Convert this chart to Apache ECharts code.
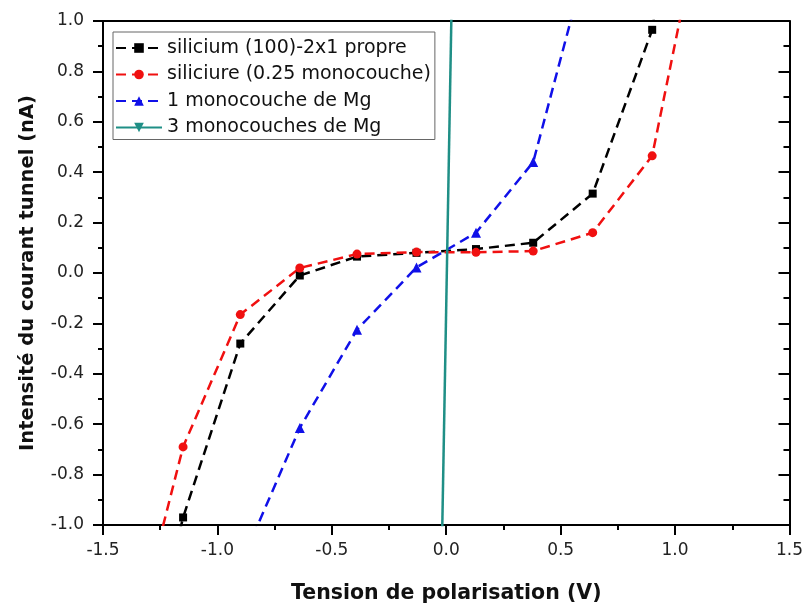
<!DOCTYPE html>
<html>
<head>
<meta charset="utf-8">
<script src="https://cdn.jsdelivr.net/npm/echarts@6/dist/echarts.min.js"></script>
<style>html,body{margin:0;padding:0;background:#fff;}#chart{width:806px;height:609px;}</style>
</head>
<body>
<div id="chart"></div>
<script>
var seriesNames = ['silicium (100)-2x1 propre', 'siliciure (0.25 monocouche)', '1 monocouche de Mg', '3 monocouches de Mg'];

var siliciumX = [-1.41, -1.15, -0.90, -0.64, -0.39, -0.13, 0.13, 0.38, 0.64, 0.90, 1.15];
var siliciumY = [-1.95, -0.97, -0.28, -0.01, 0.065, 0.08, 0.095, 0.12, 0.315, 0.965, 2.5];

var siliciureX = [-1.41, -1.15, -0.90, -0.64, -0.39, -0.13, 0.13, 0.38, 0.64, 0.90, 1.15];
var siliciureY = [-1.62, -0.69, -0.165, 0.02, 0.075, 0.083, 0.082, 0.087, 0.16, 0.465, 1.58];

var mg1X = [-0.90, -0.64, -0.39, -0.13, 0.13, 0.38, 0.64];
var mg1Y = [-1.16, -0.615, -0.225, 0.022, 0.16, 0.44, 1.33];

var mg3X = [-0.027, 0.032];
var mg3Y = [-1.5, 1.5];

var xTicks = [-1.5, -1.0, -0.5, 0.0, 0.5, 1.0, 1.5];
var yTicks = [-1.0, -0.8, -0.6, -0.4, -0.2, 0.0, 0.2, 0.4, 0.6, 0.8, 1.0];

function pairs(xs, ys) { return xs.map(function (x, i) { return [x, ys[i]]; }); }

var chart = echarts.init(document.getElementById('chart'));
var font = 'DejaVu Sans, Liberation Sans, Arial, sans-serif';
var dash = [10, 6];

chart.setOption({
  animation: false,
  backgroundColor: '#fff',
  grid: { left: 103, right: 14, top: 21, bottom: 78, containLabel: false },
  legend: {
    orient: 'vertical', left: 113, top: 32,
    itemWidth: 46, itemHeight: 12, itemGap: 6.5,
    padding: [6, 4, 2, 2],
    borderColor: '#666', borderWidth: 1,
    textStyle: { fontFamily: font, fontSize: 19, color: '#111', lineHeight: 20 },
    data: seriesNames
  },
  xAxis: [{
    type: 'value', min: xTicks[0], max: xTicks[xTicks.length - 1], interval: 0.5, position: 'bottom',
    axisLine: { onZero: false, lineStyle: { color: '#000', width: 2 } },
    axisTick: { show: true, inside: false, length: 10, lineStyle: { color: '#000', width: 2 } },
    minorTick: { show: true, splitNumber: 2, length: 5, lineStyle: { color: '#000', width: 2 } },
    splitLine: { show: false },
    axisLabel: { fontFamily: font, fontSize: 17, color: '#222', margin: 17, formatter: function (v) { return v.toFixed(1); } },
    name: 'Tension de polarisation (V)', nameLocation: 'middle', nameGap: 58,
    nameTextStyle: { fontFamily: font, fontSize: 20.5, fontWeight: 'bold', color: '#111' }
  }, {
    type: 'value', min: xTicks[0], max: xTicks[xTicks.length - 1], interval: 0.5, position: 'top',
    axisLine: { onZero: false, lineStyle: { color: '#000', width: 2 } },
    axisTick: { show: false }, axisLabel: { show: false }, splitLine: { show: false }
  }],
  yAxis: [{
    type: 'value', min: yTicks[0], max: yTicks[yTicks.length - 1], interval: 0.2, position: 'left',
    axisLine: { onZero: false, lineStyle: { color: '#000', width: 2 } },
    axisTick: { show: true, inside: false, length: 10, lineStyle: { color: '#000', width: 2 } },
    minorTick: { show: true, splitNumber: 2, length: 5, lineStyle: { color: '#000', width: 2 } },
    splitLine: { show: false },
    axisLabel: { fontFamily: font, fontSize: 17, color: '#222', margin: 19, formatter: function (v) { return v.toFixed(1); } },
    name: 'Intensité du courant tunnel (nA)', nameLocation: 'middle', nameGap: 65, nameRotate: 90,
    nameTextStyle: { fontFamily: font, fontSize: 19.5, fontWeight: 'bold', color: '#111' }
  }, {
    type: 'value', min: yTicks[0], max: yTicks[yTicks.length - 1], interval: 0.2, position: 'right',
    axisLine: { onZero: false, lineStyle: { color: '#000', width: 2 } },
    axisTick: { show: true, inside: true, length: 11, lineStyle: { color: '#000', width: 2 } },
    minorTick: { show: true, splitNumber: 2, length: 6, lineStyle: { color: '#000', width: 2 } },
    axisLabel: { show: false }, splitLine: { show: false }
  }],
  series: [{
    name: seriesNames[0], type: 'line', xAxisIndex: 0, yAxisIndex: 0, clip: true,
    data: pairs(siliciumX, siliciumY),
    symbol: 'rect', symbolSize: 8,
    itemStyle: { color: '#000' },
    lineStyle: { color: '#000', width: 2.5, type: dash }
  }, {
    name: seriesNames[1], type: 'line', xAxisIndex: 0, yAxisIndex: 0, clip: true,
    data: pairs(siliciureX, siliciureY),
    symbol: 'circle', symbolSize: 9,
    itemStyle: { color: '#f01010' },
    lineStyle: { color: '#f01010', width: 2.5, type: dash }
  }, {
    name: seriesNames[2], type: 'line', xAxisIndex: 0, yAxisIndex: 0, clip: true,
    data: pairs(mg1X, mg1Y),
    symbol: 'triangle', symbolSize: 10,
    itemStyle: { color: '#1010e8' },
    lineStyle: { color: '#1010e8', width: 2.5, type: dash }
  }, {
    name: seriesNames[3], type: 'line', xAxisIndex: 0, yAxisIndex: 0, clip: true,
    data: pairs(mg3X, mg3Y),
    symbol: 'triangle', symbolRotate: 180, symbolSize: 10,
    itemStyle: { color: '#1f8f86' },
    lineStyle: { color: '#1f8f86', width: 2.5, type: 'solid' }
  }]
});
</script>
</body>
</html>
